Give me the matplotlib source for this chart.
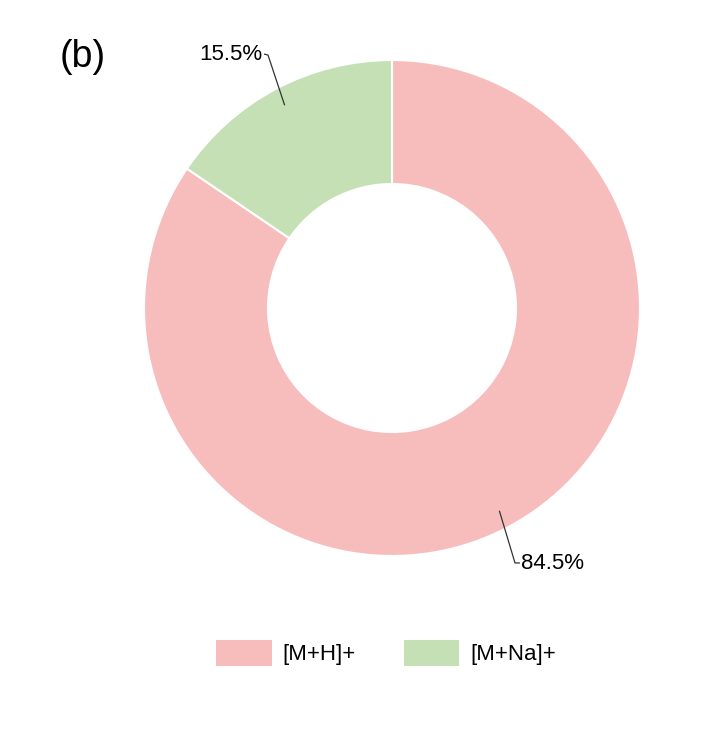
import numpy as np
import matplotlib
matplotlib.use("Agg")
import matplotlib.pyplot as plt
from matplotlib.patches import Patch

labels = ["[M+H]+", "[M+Na]+"]
values = [84.5, 15.5]
colors = ["#F7BDBD", "#C5E0B5"]

plt.rcParams['font.family'] = ['Liberation Sans', 'DejaVu Sans']

W, H = 718, 743
fig = plt.figure(figsize=(W / 100, H / 100), dpi=100)
cx, cy, R = 392, 308, 248
x0, x1, y0, y1 = -1.4, 1.3, -1.2, 1.2
ax = fig.add_axes([(cx + x0 * R) / W, (H - (cy - y0 * R)) / H,
                   (x1 - x0) * R / W, (y1 - y0) * R / H])
wedges, _ = ax.pie(values, colors=colors, startangle=90, counterclock=False,
                   radius=1.0,
                   wedgeprops=dict(width=0.5, edgecolor="white", linewidth=1.5))
ax.set_xlim(x0, x1)
ax.set_ylim(y0, y1)
ax.set_aspect('equal')
ax.axis('off')

# leader lines and labels
elbows = [(0.496, -1.028), (-0.50, 1.02)]
ends = [(0.516, -1.028), (-0.516, 1.024)]
for w, v, el, en in zip(wedges, values, elbows, ends):
    ang = np.deg2rad((w.theta1 + w.theta2) / 2)
    ax_, ay_ = 0.925 * np.cos(ang), 0.925 * np.sin(ang)
    ax.plot([ax_, el[0], en[0]], [ay_, el[1], en[1]], color="#333333", lw=0.9,
            solid_capstyle='butt', clip_on=False)
    ha = 'left' if en[0] > 0 else 'right'
    dx = 0.006 if en[0] > 0 else -0.006
    ax.text(en[0] + dx, en[1] - 0.002, f"{v}%", ha=ha, va='center', fontsize=16)

handles = [Patch(facecolor=c, edgecolor='none') for c in colors]
fig.legend(handles, labels, loc='center', bbox_to_anchor=(386 / W, (H - 653) / H),
           ncol=2, frameon=False, fontsize=16, handlelength=2.5, handleheight=1.49,
           handletextpad=0.5, columnspacing=2.15)

fig.text(60 / W, (H - 57) / H, "(b)", fontsize=27, va='center', ha='left')

fig.savefig("out.png", dpi=100)
